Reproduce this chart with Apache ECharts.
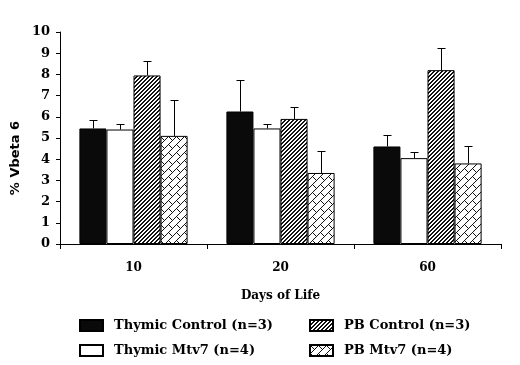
<!DOCTYPE html>
<html>
<head>
<meta charset="utf-8">
<script src="https://cdn.jsdelivr.net/npm/echarts@6/dist/echarts.min.js"></script>
<style>
  html, body { margin: 0; padding: 0; background: #fff; }
  #main { width: 520px; height: 365px; }
</style>
</head>
<body>
<div id="main"></div>
<script>
// data
var days = ['10', '20', '60'];
var seriesNames = ['Thymic Control (n=3)', 'Thymic Mtv7 (n=4)', 'PB Control (n=3)', 'PB Mtv7 (n=4)'];
var thymicControl = [5.45, 6.25, 4.6];
var thymicMtv7 = [5.4, 5.45, 4.05];
var pbControl = [7.95, 5.9, 8.2];
var pbMtv7 = [5.1, 3.35, 3.8];
// error (upper bar only)
var thymicControlErr = [0.4, 1.5, 0.55];
var thymicMtv7Err = [0.25, 0.2, 0.3];
var pbControlErr = [0.7, 0.55, 1.05];
var pbMtv7Err = [1.7, 1.05, 0.8];
var yTicks = [0, 1, 2, 3, 4, 5, 6, 7, 8, 9, 10];

var means = [thymicControl, thymicMtv7, pbControl, pbMtv7];
var errs = [thymicControlErr, thymicMtv7Err, pbControlErr, pbMtv7Err];

var BAR_RATIO = 0.184;

// fill patterns
function makeTile(size, test) {
    var c = document.createElement('canvas');
    c.width = size; c.height = size;
    var ctx = c.getContext('2d');
    ctx.fillStyle = '#fff';
    ctx.fillRect(0, 0, size, size);
    ctx.fillStyle = '#111';
    for (var x = 0; x < size; x++) {
        for (var y = 0; y < size; y++) {
            if (test(x, y)) ctx.fillRect(x, y, 1, 1);
        }
    }
    return c;
}
// dense diagonal hatch "////"
var hatchTile = makeTile(4, function (x, y) {
    return ((x + y) % 4) < 2;
});
// diagonal brick / weave pattern
var brickTile = makeTile(16, function (x, y) {
    var u = x + y, v = x - y + 32;
    if (u % 8 === 0) return true;
    var k = Math.floor(u / 8);
    return ((v + 8 * k) % 16) === 0;
});

var fills = [
    '#0a0a0a',
    '#ffffff',
    { image: hatchTile, repeat: 'repeat' },
    { image: brickTile, repeat: 'repeat' }
];

var barSeries = seriesNames.map(function (name, i) {
    return {
        name: name,
        type: 'bar',
        data: means[i],
        barWidth: (BAR_RATIO * 100) + '%',
        barGap: '0%',
        itemStyle: { color: fills[i], borderColor: '#000', borderWidth: 1 },
        emphasis: { disabled: true },
        z: 2
    };
});

var errData = [];
for (var s = 0; s < 4; s++) {
    for (var c = 0; c < days.length; c++) {
        errData.push([c, means[s][c], means[s][c] + errs[s][c], s]);
    }
}

var errSeries = {
    type: 'custom',
    name: 'err',
    data: errData,
    encode: { x: 0, y: [1, 2] },
    z: 3,
    silent: true,
    renderItem: function (params, api) {
        var cat = api.value(0);
        var s = api.value(3);
        var band = api.size([1, 0])[0];
        var bw = band * BAR_RATIO;
        var base = api.coord([cat, api.value(1)]);
        var top = api.coord([cat, api.value(2)]);
        var x = Math.round(base[0] + (s - 1.5) * bw) + 0.5;
        var yTop = Math.round(top[1]) + 0.5;
        var style = { stroke: '#000', lineWidth: 1 };
        return {
            type: 'group',
            children: [
                { type: 'line', shape: { x1: x, y1: base[1], x2: x, y2: yTop }, style: style },
                { type: 'line', shape: { x1: x - 4, y1: yTop, x2: x + 4, y2: yTop }, style: style }
            ]
        };
    }
};

var legendText = {
    fontFamily: 'DejaVu Serif',
    fontWeight: 'bold',
    fontSize: 13,
    color: '#000',
    padding: [0, 0, 0, 6]
};

// one legend per entry so the 2x2 block lines up like the original
var legendPos = [[79, 319], [79, 344], [309, 319], [309, 344]];
var legends = seriesNames.map(function (name, i) {
    return {
        data: [name],
        left: legendPos[i][0], top: legendPos[i][1],
        padding: 0,
        itemWidth: 23, itemHeight: 11, itemGap: 11,
        icon: 'rect',
        textStyle: legendText,
        selectedMode: false
    };
});

var chart = echarts.init(document.getElementById('main'), null, { renderer: 'canvas' });
chart.setOption({
    animation: false,
    backgroundColor: '#fff',
    grid: { left: 60, right: 19, top: 32, bottom: 121 },
    legend: legends,
    xAxis: {
        type: 'category',
        data: days,
        name: 'Days of Life',
        nameLocation: 'middle',
        nameGap: 46,
        nameTextStyle: { fontFamily: 'DejaVu Serif', fontWeight: 'bold', fontSize: 12, color: '#000' },
        axisLine: { lineStyle: { color: '#000', width: 1 } },
        axisTick: { show: true, length: 5, interval: 0, alignWithLabel: false, lineStyle: { color: '#000' } },
        axisLabel: { margin: 18, fontFamily: 'DejaVu Serif', fontWeight: 'bold', fontSize: 12, color: '#000' },
        splitLine: { show: false }
    },
    yAxis: {
        type: 'value',
        min: 0, max: 10, interval: 1,
        axisLine: { show: true, lineStyle: { color: '#000', width: 1 } },
        axisTick: { show: true, length: 4, lineStyle: { color: '#000' } },
        axisLabel: {
            margin: 10,
            fontFamily: 'DejaVu Serif', fontWeight: 'bold', fontSize: 13, color: '#000',
            formatter: function (v) { return yTicks.indexOf(v) >= 0 ? String(v) : ''; }
        },
        splitLine: { show: false }
    },
    graphic: [{
        type: 'text',
        x: 16, y: 158,
        rotation: Math.PI / 2,
        style: {
            text: '% Vbeta 6',
            fontFamily: 'DejaVu Sans',
            fontWeight: 'bold',
            fontSize: 13,
            fill: '#000',
            align: 'center',
            verticalAlign: 'middle'
        }
    }],
    series: barSeries.concat([errSeries])
});
</script>
</body>
</html>
